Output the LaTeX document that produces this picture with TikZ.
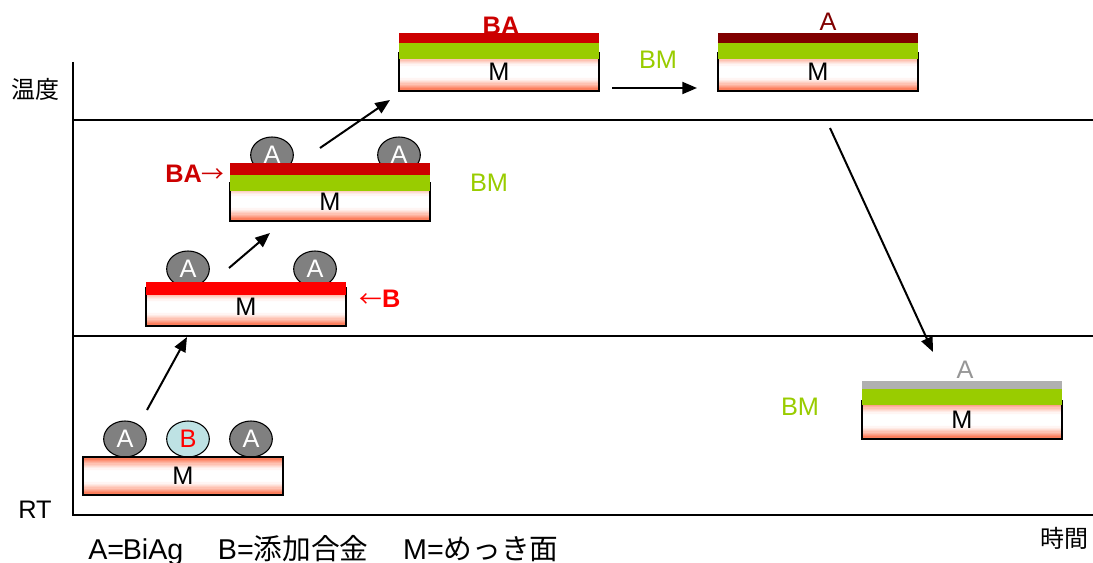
\documentclass[tikz,border=0pt]{standalone}
\usepackage{fontspec}
\setmainfont{Liberation Sans}
\newfontfamily\jp{Noto Sans CJK JP}
\usetikzlibrary{arrows.meta,shapes.geometric,calc}
\definecolor{subor}{RGB}{252,100,60}
\definecolor{baRed}{RGB}{204,0,0}
\definecolor{bRed}{RGB}{255,0,0}
\definecolor{aMaroon}{RGB}{128,0,0}
\definecolor{bmGreen}{RGB}{153,204,0}
\definecolor{aGray}{RGB}{176,176,176}
\definecolor{aText}{RGB}{150,150,150}
\definecolor{ballGray}{RGB}{128,128,128}
\definecolor{bBlue}{RGB}{190,226,228}
\tikzset{
  lbl/.style={font=\fontsize{19}{22}\selectfont, inner sep=0pt},
  subbox/.style={draw=black, line width=1.1pt, fill=white, minimum width=150pt, minimum height=28.5pt, inner sep=0pt, lbl,
    path picture={
      \foreach \i in {0,...,29} {
        \pgfmathsetmacro\ta{\i/30}
        \pgfmathsetmacro\tb{min(1,(\i+1.3)/30)}
        \pgfmathsetmacro\tm{(\i+0.5)/30}
        \pgfmathsetmacro\pc{100*max(0,1-min(\tm,1-\tm)/0.36)^1.3}
        \fill[subor!\pc!white]
          ($(path picture bounding box.north west)!\ta!(path picture bounding box.south west)$) rectangle
          ($(path picture bounding box.north east)!\tb!(path picture bounding box.south east)$);
      }
    }},
  layer/.style={inner sep=0pt, minimum width=150pt, draw=none},
  ball/.style={ellipse, draw=black, line width=0.8pt, fill=ballGray, minimum width=32pt, minimum height=27pt, inner sep=0pt, lbl, text=white},
  flow/.style={line width=1.5pt, -{Triangle[length=11pt,width=9pt]}},
  axis/.style={line width=2.2pt},
  level/.style={line width=1pt},
  bm/.style={lbl, text=bmGreen}
}
\begin{document}
\begin{tikzpicture}[x=0.75pt,y=-0.75pt]
\useasboundingbox (0,0) rectangle (1093,563);
% axes and levels
\coordinate (o) at (73,515);
\coordinate (ytop) at (73,62);
\coordinate (xend) at (1093,515);
\coordinate (l1a) at (73,120);
\coordinate (l1b) at (1093,120);
\coordinate (l2a) at (73,336);
\coordinate (l2b) at (1093,336);
\draw[level] (l1a) -- (l1b);
\draw[level] (l2a) -- (l2b);
\draw[axis] (ytop) -- (o) -- (xend);
\node[lbl, font=\jp\fontsize{18}{22}\selectfont] (temp) at (36,89) {温度};
\node[lbl] (rt) at (35,510) {RT};
\node[lbl, font=\jp\fontsize{18}{22}\selectfont] (time) at (1064,538) {時間};
\node[lbl, anchor=west, font=\fontsize{21.5}{24}\selectfont] (legend) at (88,550) {A={\kern-1pt}BiAg\hspace{26pt}B={\jp 添加合金}\hspace{26pt}M={\jp めっき面}};

% stage 1
\node[ball] (a11) at (125,439) {A};
\node[ball, fill=bBlue, text=bRed] (b1) at (188,439) {B};
\node[ball] (a12) at (251,439) {A};
\node[subbox] (m1) at (183,476) {M};

% stage 2
\node[ball] (a21) at (188,269) {A};
\node[ball] (a22) at (315,269) {A};
\node[subbox] (m2) at (246,307) {M};
\node[layer, fill=bRed, minimum height=9.75pt] (l2) at (246,288.5) {};
\node[lbl, text=bRed] (bl) at (380,299) {{\jp\fontsize{17}{20}\selectfont ←}\textbf{B}};

% stage 3
\node[ball] (a31) at (272,155) {A};
\node[ball] (a32) at (399,155) {A};
\node[subbox] (m3) at (330,202) {M};
\node[layer, fill=bmGreen, minimum height=12pt] (g3) at (330,183) {};
\node[layer, fill=baRed, minimum height=9pt] (r3) at (330,169) {};
\node[lbl, text=baRed] (bal) at (195,174) {\textbf{BA}{\jp\fontsize{17}{20}\selectfont →}};
\node[bm] (bm3) at (489,183) {BM};

% stage 4
\node[lbl, text=baRed, font=\bfseries\fontsize{19}{22}\selectfont] (ba4) at (501,26) {BA};
\node[subbox] (m4) at (499,72) {M};
\node[layer, fill=bmGreen, minimum height=12pt] (g4) at (499,51) {};
\node[layer, fill=baRed, minimum height=7.5pt] (r4) at (499,38) {};
\node[bm] (bm4) at (658,60) {BM};

% stage 5
\node[lbl, text=aMaroon] (a5) at (828,22) {A};
\node[subbox] (m5) at (818,72) {M};
\node[layer, fill=bmGreen, minimum height=12pt] (g5) at (818,51) {};
\node[layer, fill=aMaroon, minimum height=7.5pt] (r5) at (818,38) {};

% stage 6
\node[lbl, text=aText] (a6) at (965,370) {A};
\node[subbox] (m6) at (962,420) {M};
\node[layer, fill=bmGreen, minimum height=12pt] (g6) at (962,397) {};
\node[layer, fill=aGray, minimum height=6pt] (r6) at (962,385) {};
\node[bm] (bm6) at (800,407) {BM};

% arrows
\coordinate (s1) at (147,410);
\coordinate (e1) at (187,337);
\coordinate (s2) at (229,268);
\coordinate (e2) at (270,233);
\coordinate (s3) at (320,148);
\coordinate (e3) at (390,100);
\coordinate (s4) at (612,88);
\coordinate (e4) at (697,88);
\coordinate (s5) at (830,128);
\coordinate (e5) at (933,352);
\draw[flow] (s1) -- (e1);
\draw[flow] (s2) -- (e2);
\draw[flow] (s3) -- (e3);
\draw[flow] (s4) -- (e4);
\draw[flow] (s5) -- (e5);
\end{tikzpicture}
\end{document}
